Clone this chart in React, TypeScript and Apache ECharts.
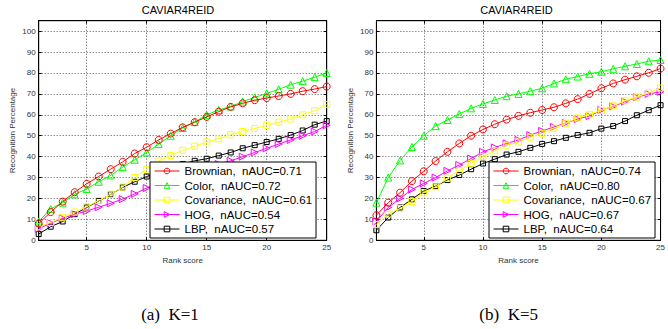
import React, { useEffect, useRef } from 'react';
import * as echarts from 'echarts';

const RANKS = [1, 2, 3, 4, 5, 6, 7, 8, 9, 10, 11, 12, 13, 14, 15, 16, 17, 18, 19, 20, 21, 22, 23, 24, 25];
const X_TICKS = [5, 10, 15, 20, 25];
const Y_TICKS = [0, 10, 20, 30, 40, 50, 60, 70, 80, 90, 100];

const METHODS = ['Brownian', 'Color', 'Covariance', 'HOG', 'LBP'];
const K1_AUC = ['0.71', '0.72', '0.61', '0.54', '0.57'];
const K5_AUC = ['0.74', '0.80', '0.67', '0.67', '0.64'];

// K=1
const K1_BROWNIAN = [8, 13.5, 18.5, 23, 27, 30.5, 34, 37.5, 41.5, 44.5, 48, 51, 54, 56.5, 59, 61.5, 63.8, 65.5, 67, 68, 69, 70, 71.3, 72.3, 73.5];
const K1_COLOR = [9, 15, 18, 22, 24.5, 28, 31, 35, 38.5, 42, 46, 50, 53.7, 56.5, 60, 62.3, 64, 66.3, 68.3, 70.2, 72.2, 74.4, 76.1, 78, 80];
const K1_COVARIANCE = [6.5, 8.5, 11, 13.5, 16, 19, 22, 25.5, 30, 34, 38, 40.5, 43, 45, 47, 48.5, 50.5, 52, 53.5, 55, 56.5, 58, 60, 62, 65];
const K1_HOG = [5.5, 8.3, 10.5, 12.5, 14, 15.8, 17.7, 19.7, 22.2, 25, 27, 29, 31, 33, 35, 36.5, 38, 40, 42, 44, 46, 48, 50, 52, 55];
const K1_LBP = [3, 6.5, 9, 12.5, 15.7, 18.8, 22, 25.3, 28, 30.5, 32.5, 34.5, 36.5, 38, 39, 40.5, 42, 44, 45.5, 47, 48.5, 50.3, 52.5, 55.3, 57];

// K=5
const K5_BROWNIAN = [12, 18, 22.8, 28.3, 33, 37.9, 42.3, 46.3, 50, 53, 55.5, 57.7, 59.5, 61, 62.3, 63.6, 65.5, 67.5, 70, 72.7, 75, 76.8, 78.4, 80.1, 82.1];
const K5_COLOR = [18, 30, 38.2, 44.6, 50, 54.6, 57.5, 60.4, 63.1, 65.2, 67.1, 68.9, 70, 71.3, 72.7, 75, 77, 78.3, 79.6, 80.6, 82, 83.2, 84.3, 85.6, 86.2];
const K5_COVARIANCE = [7.5, 12.5, 15.2, 18.5, 22.7, 25.6, 29.7, 33.3, 36.8, 40, 42.8, 45.5, 47, 49.3, 51.2, 53.6, 56, 58.5, 60.2, 62.1, 64.3, 66.7, 68.5, 70.6, 72.8];
const K5_HOG = [9, 15.7, 20, 24.3, 27.2, 30, 33.2, 36, 39.1, 42.3, 44.4, 46.3, 48, 50.3, 52.3, 54.2, 56.1, 58, 59.4, 62.3, 64, 66.3, 68.4, 70, 71];
const K5_LBP = [4.8, 10.9, 15.7, 19.6, 23.6, 25.9, 28.8, 31.2, 34, 36.7, 38.8, 41, 42.3, 44.2, 46.1, 47.4, 49, 50.3, 51.4, 53.4, 54.6, 57, 59.8, 62.2, 64.6];

const TITLES = ['CAVIAR4REID', 'CAVIAR4REID'];
const CAPTIONS = ['(a)  K=1', '(b)  K=5'];

const COLORS = ['#ff0000', '#00ff00', '#ffff00', '#ff00ff', '#000000'];
const SYMBOLS = ['circle', 'triangle', 'rect', 'path://M0,0 L10,5 L0,10 Z', 'rect'];
const SYMBOL_SIZE = [7, 7, 6, 7, 5];

const PANELS = [
  { data: [K1_BROWNIAN, K1_COLOR, K1_COVARIANCE, K1_HOG, K1_LBP], auc: K1_AUC },
  { data: [K5_BROWNIAN, K5_COLOR, K5_COVARIANCE, K5_HOG, K5_LBP], auc: K5_AUC },
];

const GRIDS = [
  { left: 38.7, top: 20.7, width: 288, height: 219.6 },
  { left: 376.4, top: 20.7, width: 289.6, height: 219.6 },
];
const LEGEND_POS = [
  { left: 150, top: 162 },
  { left: 489, top: 162 },
];
const FONT = 'Liberation Sans, Arial, Helvetica, sans-serif';

export default function App() {
  const ref = useRef<HTMLDivElement>(null);
  useEffect(() => {
    document.body.style.margin = '0';
    if (!ref.current) return;
    const chart = echarts.init(ref.current, null, { renderer: 'svg' });

    const xAxes: any[] = [];
    const yAxes: any[] = [];
    const series: any[] = [];
    const legends: any[] = [];
    const graphics: any[] = [];

    PANELS.forEach((p, gi) => {
      const baseX = {
        type: 'value', gridIndex: gi, min: 1, max: 25,
        axisLine: { show: true, onZero: false, lineStyle: { color: '#000', width: 1 } },
        axisTick: { show: true, inside: true, length: 3, customValues: X_TICKS, lineStyle: { color: '#000' } },
      };
      xAxes.push({
        ...baseX, position: 'bottom',
        name: 'Rank score', nameLocation: 'middle', nameGap: 16,
        nameTextStyle: { fontSize: 8, color: '#333', fontFamily: FONT },
        axisLabel: { show: true, customValues: X_TICKS, fontSize: 8, color: '#333', margin: 3, fontFamily: FONT },
        splitLine: { show: true, lineStyle: { color: '#555', type: [1, 2], width: 1 } },
      });
      xAxes.push({
        ...baseX, position: 'top',
        axisLabel: { show: false },
        splitLine: { show: false },
      });
      const baseY = {
        type: 'value', gridIndex: gi, min: 0, max: 105,
        axisLine: { show: true, onZero: false, lineStyle: { color: '#000', width: 1 } },
        axisTick: { show: true, inside: true, length: 3, customValues: Y_TICKS, lineStyle: { color: '#000' } },
      };
      yAxes.push({
        ...baseY, position: 'left',
        name: 'Recognition Percentage', nameLocation: 'middle', nameGap: 22,
        nameTextStyle: { fontSize: 8, color: '#333', fontFamily: FONT },
        axisLabel: { show: true, customValues: Y_TICKS, fontSize: 8, color: '#333', margin: 3, fontFamily: FONT },
        splitLine: { show: true, lineStyle: { color: '#555', type: [1, 2], width: 1 } },
      });
      yAxes.push({
        ...baseY, position: 'right',
        axisLabel: { show: false },
        splitLine: { show: false },
      });

      const legendData: any[] = [];
      p.data.forEach((vals, mi) => {
        const name = `${METHODS[mi]},  nAUC=${p.auc[mi]}`;
        legendData.push({
          name,
          itemStyle: { color: 'rgba(255,255,255,0)', borderColor: COLORS[mi], borderWidth: 1 },
          lineStyle: { color: COLORS[mi], width: 1 },
        });
        series.push({
          type: 'line', name,
          xAxisIndex: gi * 2, yAxisIndex: gi * 2,
          data: RANKS.map((r, i) => [r, vals[i]]),
          symbol: SYMBOLS[mi], symbolSize: SYMBOL_SIZE[mi],
          showAllSymbol: true,
          lineStyle: { color: COLORS[mi], width: 1 },
          itemStyle: { color: 'rgba(255,255,255,0)', borderColor: COLORS[mi], borderWidth: 1 },
          emphasis: { disabled: true },
          z: 2 + (4 - mi) * 0.01,
        });
      });

      legends.push({
        data: legendData,
        orient: 'vertical',
        left: LEGEND_POS[gi].left, top: LEGEND_POS[gi].top,
        padding: [2, 4, 2, 4],
        itemWidth: 25, itemHeight: 7, itemGap: 0.5,
        backgroundColor: '#fff', borderColor: '#000', borderWidth: 1,
        textStyle: { fontSize: 11.5, color: '#000', fontFamily: FONT, lineHeight: 14 },
        selectedMode: false,
      });

      const g = GRIDS[gi];
      graphics.push({
        type: 'text', left: g.left + g.width / 2 - 41, top: 4,
        style: { text: TITLES[gi], fontSize: 11, fill: '#000', fontFamily: FONT },
      });
      graphics.push({
        type: 'text', x: gi === 0 ? 170 : 508.7, y: 314,
        style: { text: CAPTIONS[gi], fontSize: 17, fill: '#000', fontFamily: 'Liberation Serif, Times New Roman, serif', align: 'center', verticalAlign: 'middle' },
      });
    });

    chart.setOption({
      animation: false,
      grid: GRIDS.map((g) => ({ ...g, show: true, borderColor: '#000', borderWidth: 1, backgroundColor: '#fff', containLabel: false })),
      xAxis: xAxes,
      yAxis: yAxes,
      legend: legends,
      series,
      graphic: graphics,
    });
    return () => chart.dispose();
  }, []);
  return <div ref={ref} style={{ position: 'absolute', left: 0, top: 0, width: 668, height: 329, background: '#fff' }} />;
}
